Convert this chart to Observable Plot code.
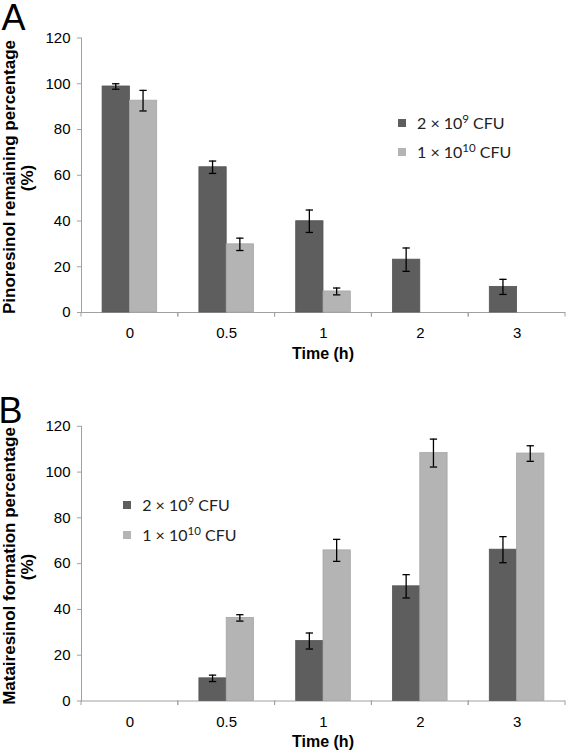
<!DOCTYPE html>
<html><head><meta charset="utf-8">
<script src="https://cdn.jsdelivr.net/npm/d3@7"></script>
<script src="https://cdn.jsdelivr.net/npm/@observablehq/plot@0.6"></script>
<style>
body{margin:0;background:#fff;}
#wrap{position:relative;width:566px;height:754px;overflow:hidden;font-family:"Liberation Sans",Arial,sans-serif;color:#000;}
.abs{position:absolute;white-space:nowrap;line-height:1;}
.panel{position:absolute;left:0;}
.ytitle{font-weight:bold;font-size:17px;transform:translate(-50%,-50%) rotate(-90deg);}
.xtitle{font-weight:bold;font-size:16px;transform:translate(-50%,-50%);}
.plabel{font-size:36px;line-height:0.75;}
.sw{position:absolute;width:8px;height:8px;transform:translateY(-50%);}
.lt{position:absolute;white-space:nowrap;line-height:1;font-family:Lato,"Open Sans",sans-serif;font-size:16px;color:#222;transform:translateY(-50%);}
.lt sup{font-size:0.72em;vertical-align:0;position:relative;top:-0.5em;}
</style></head><body><div id="wrap"></div>
<script>
// ---- data ----
const times = ["0", "0.5", "1", "2", "3"];
const seriesKeys = ["2e9", "1e10"];
const seriesLabels = ["2 × 10<sup>9</sup> CFU", "1 × 10<sup>10</sup> CFU"];
const remainDark = [98.8, 63.5, 39.9, 23.1, 11.2];
const remainDarkErr = [1.2, 2.7, 4.9, 5.1, 3.3];
const remainLight = [92.6, 29.8, 9.2, null, null];
const remainLightErr = [4.5, 2.7, 1.5, null, null];
const formDark = [null, 9.9, 26.2, 50.1, 66.1];
const formDarkErr = [null, 1.4, 3.5, 5.1, 5.7];
const formLight = [null, 36.3, 65.8, 108.3, 108.1];
const formLightErr = [null, 1.4, 4.8, 6.1, 3.4];
const yTicks = [0, 20, 40, 60, 80, 100, 120];
const yTitles = ["Pinoresinol remaining percentage", "Matairesinol formation percentage"];
const xTitle = "Time (h)";
const panelLabels = ["A", "B"];

// ---- styles ----
const darkFill = "#5e5e5e", darkStroke = "#555555";
const lightFill = "#b4b4b4", lightStroke = "#a6a6a6";
const gray = "#a0a0a0";

function rowsFor(vals, errs, key) {
  const out = [];
  times.forEach((t, i) => {
    if (vals[i] != null) out.push({time: t, series: key, value: vals[i], err: errs[i]});
  });
  return out;
}

// category boundary ticks below the baseline, drawn from each facet's x range
const boundaryTicks = (index, scales, values, dims) => {
  const rng = scales.x && scales.x.range ? scales.x.range() : [dims.marginLeft, dims.width - dims.marginRight];
  const y0 = scales.y(0);
  const g = d3.create("svg:g").attr("stroke", gray).attr("stroke-width", 1).attr("fill", "none");
  for (const xx of rng) g.append("line").attr("x1", xx).attr("x2", xx).attr("y1", y0).attr("y2", y0 + 4.5);
  return g.node();
};

function panel(dark, light, height, marginTop, marginBottom) {
  const all = dark.concat(light);
  const errOpts = {fx: "time", x: "series", fill: "#000", insetLeft: 13, insetRight: 13,
                   y1: d => d.value - d.err, y2: d => d.value + d.err};
  const capOpts = {fx: "time", x: "series", stroke: "#000", strokeWidth: 1.3, insetLeft: 10, insetRight: 10};
  return Plot.plot({
    width: 566, height, marginLeft: 81, marginRight: 1, marginTop, marginBottom,
    style: {fontFamily: "'Liberation Sans', Arial, sans-serif", background: "white", color: "#000", overflow: "visible"},
    fx: {domain: times, padding: 0, round: false, label: null},
    x: {domain: seriesKeys, paddingInner: 0, paddingOuter: 0.773, round: false, axis: null},
    y: {domain: [0, 120], label: null},
    marks: [
      Plot.ruleY(times.map(t => ({time: t})), {fx: "time", y: () => 0, stroke: gray}),
      Plot.barY(dark, {fx: "time", x: "series", y: "value", fill: darkFill, stroke: darkStroke, strokeWidth: 0.8}),
      Plot.barY(light, {fx: "time", x: "series", y: "value", fill: lightFill, stroke: lightStroke, strokeWidth: 0.8}),
      Plot.barY(all, errOpts),
      Plot.tickY(all, {...capOpts, y: d => d.value - d.err}),
      Plot.tickY(all, {...capOpts, y: d => d.value + d.err}),
      Plot.frame({anchor: "left", stroke: gray, facetAnchor: "left"}),
      Plot.axisY({ticks: yTicks, tickSize: 4, tickPadding: 7, stroke: gray, fill: "#000", fontSize: 15, label: null}),
      Plot.axisFx({anchor: "bottom", tickSize: 0, tickPadding: 15, fontSize: 15, fill: "#000", label: null}),
      boundaryTicks
    ]
  });
}

const wrap = document.getElementById("wrap");
function addPanel(svg, top) {
  const d = document.createElement("div");
  d.className = "panel"; d.style.top = top + "px";
  d.appendChild(svg); wrap.appendChild(d);
}
addPanel(panel(rowsFor(remainDark, remainDarkErr, seriesKeys[0]), rowsFor(remainLight, remainLightErr, seriesKeys[1]), 370, 37.5, 58), 0);
addPanel(panel(rowsFor(formDark, formDarkErr, seriesKeys[0]), rowsFor(formLight, formLightErr, seriesKeys[1]), 384, 55.8, 53.5), 370);

function addText(cls, html, left, top) {
  const d = document.createElement("div");
  d.className = "abs " + cls; d.innerHTML = html;
  d.style.left = left + "px"; d.style.top = top + "px";
  wrap.appendChild(d); return d;
}
// panel letters
addText("plabel", panelLabels[0], 1.5, 4);
addText("plabel", panelLabels[1], -1.5, 396.7);
// y titles
addText("ytitle", yTitles[0], 9.2, 177);
addText("ytitle", "(%)", 27.4, 177.5);
addText("ytitle", yTitles[1], 9.2, 566);
addText("ytitle", "(%)", 27.4, 567);
// x titles
addText("xtitle", xTitle, 323, 353.7);
addText("xtitle", xTitle, 323, 742.2);

// legends
function legend(x, ys) {
  const fills = [darkFill, lightFill];
  ys.forEach((y, i) => {
    const s = document.createElement("div");
    s.className = "sw"; s.style.left = x + "px"; s.style.top = y + "px"; s.style.background = fills[i];
    wrap.appendChild(s);
    const t = document.createElement("div");
    t.className = "lt"; t.innerHTML = seriesLabels[i];
    t.style.left = (x + 19.5) + "px"; t.style.top = y + "px";
    wrap.appendChild(t);
  });
}
legend(397.5, [122.5, 152]);
legend(122.7, [505, 535]);
</script></body></html>
